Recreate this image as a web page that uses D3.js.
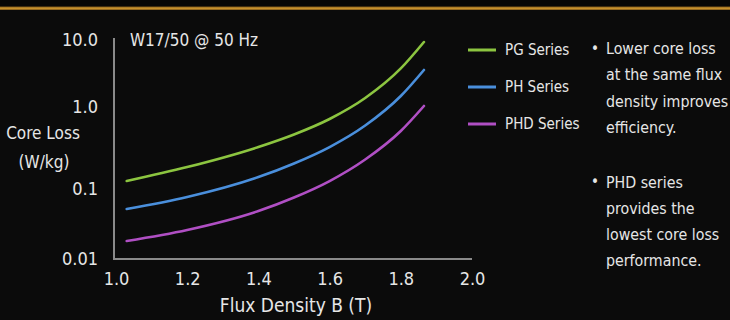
<!DOCTYPE html>
<html>
<head>
<meta charset="utf-8">
<script src="https://cdn.jsdelivr.net/npm/d3@7"></script>
<style>
  html, body { margin: 0; padding: 0; background: #0a0a0a; }
  svg { display: block; }
  text { font-family: "DejaVu Sans Condensed", "DejaVu Sans", sans-serif; font-stretch: condensed; fill: #e6e6e6; }
</style>
</head>
<body>
<svg id="chart" width="730" height="320"></svg>
<script>
// ---- data ----
const fluxDensity = [1.03, 1.2, 1.4, 1.5, 1.6, 1.7, 1.8, 1.865];
const pgSeries  = [0.125, 0.185, 0.325, 0.462, 0.714, 1.36, 3.76, 9.33];
const phSeries  = [0.0518, 0.0769, 0.140, 0.205, 0.325, 0.595, 1.46, 3.57];
const phdSeries = [0.0181, 0.0260, 0.0485, 0.0756, 0.125, 0.229, 0.510, 1.035];
const seriesNames = ["PG Series", "PH Series", "PHD Series"];
const seriesColors = ["#8cc540", "#4a8fdc", "#b04fc4"];
const xTickValues = [1.0, 1.2, 1.4, 1.6, 1.8, 2.0];
const xTickLabels = ["1.0", "1.2", "1.4", "1.6", "1.8", "2.0"];
const yTickValues = [0.01, 0.1, 1, 10];
const yTickLabels = ["0.01", "0.1", "1.0", "10.0"];
const chartTitle = "W17/50 @ 50 Hz";
const xTitle = "Flux Density B (T)";
const yTitle = ["Core Loss", "(W/kg)"];
const bullets = [
  ["Lower core loss", "at the same flux", "density improves", "efficiency."],
  ["PHD series", "provides the", "lowest core loss", "performance."]
];

const svg = d3.select("#chart");

// background + top gold rule
const defs = svg.append("defs");
const g1 = defs.append("linearGradient").attr("id", "gold").attr("x1", 0).attr("x2", 0).attr("y1", 0).attr("y2", 1);
g1.append("stop").attr("offset", "0%").attr("stop-color", "#7a5418");
g1.append("stop").attr("offset", "50%").attr("stop-color", "#d29a30");
g1.append("stop").attr("offset", "100%").attr("stop-color", "#7a5418");
svg.append("rect").attr("width", 730).attr("height", 320).attr("fill", "#0b0b0b");
svg.append("rect").attr("width", 730).attr("height", 7).attr("fill", "#060606");
svg.append("rect").attr("y", 6.5).attr("width", 730).attr("height", 3.5).attr("fill", "url(#gold)");

// scales
const x = d3.scaleLinear().domain([1.0, 2.0]).range([116, 472]);
const y = d3.scaleLog().domain(yTickValues).range([259, 189, 107, 40]);

// axes
const xAxis = d3.axisBottom(x).tickValues(xTickValues)
  .tickFormat((d, i) => xTickLabels[i]).tickSize(0).tickPadding(12);
const gx = svg.append("g").attr("transform", "translate(0,259)").call(xAxis);
gx.select(".domain").attr("stroke", "#8a8a8a").attr("stroke-width", 2)
  .attr("d", "M114,0H472");
gx.selectAll("text").attr("font-size", 18).attr("fill", "#e6e6e6")
  .attr("font-family", null).attr("dy", "0.75em");

const yAxis = d3.axisLeft(y).tickValues(yTickValues)
  .tickFormat((d, i) => yTickLabels[i]).tickSize(0).tickPadding(16);
const gy = svg.append("g").attr("transform", "translate(114,0)").call(yAxis);
gy.select(".domain").attr("stroke", "#8a8a8a").attr("stroke-width", 2)
  .attr("d", "M0,38V260");
gy.selectAll("text").attr("font-size", 18).attr("fill", "#e6e6e6").attr("font-family", null);

// titles
svg.append("text").attr("x", 130).attr("y", 40).attr("dy", "0.35em")
  .attr("font-size", 17).text(chartTitle);
svg.append("text").attr("x", 296).attr("y", 305).attr("dy", "0.35em")
  .attr("text-anchor", "middle").attr("font-size", 19).text(xTitle);
svg.append("text").attr("x", 43).attr("y", 133).attr("dy", "0.35em")
  .attr("text-anchor", "middle").attr("font-size", 17).text(yTitle[0]);
svg.append("text").attr("x", 44).attr("y", 162).attr("dy", "0.35em")
  .attr("text-anchor", "middle").attr("font-size", 17).text(yTitle[1]);

// lines
const allSeries = [pgSeries, phSeries, phdSeries];
const line = d3.line().x((d, i) => x(fluxDensity[i])).y(d => y(d)).curve(d3.curveMonotoneX);
allSeries.forEach((s, k) => {
  svg.append("path").datum(s).attr("d", line).attr("fill", "none")
    .attr("stroke", seriesColors[k]).attr("stroke-width", 2.6).attr("stroke-linecap", "round");
});

// legend
seriesNames.forEach((name, k) => {
  const ly = 50 + k * 37;
  svg.append("line").attr("x1", 468).attr("x2", 496).attr("y1", ly).attr("y2", ly)
    .attr("stroke", seriesColors[k]).attr("stroke-width", 3);
  svg.append("text").attr("x", 505).attr("y", ly).attr("dy", "0.35em")
    .attr("font-size", 15).text(name);
});

// bullet notes
const bulletTop = [48.5, 182];
bullets.forEach((lines, b) => {
  svg.append("text").attr("x", 595).attr("y", bulletTop[b]).attr("dy", "0.35em")
    .attr("font-size", 15).attr("text-anchor", "middle").text("•");
  lines.forEach((t, i) => {
    svg.append("text").attr("x", 606).attr("y", bulletTop[b] + i * 26.3).attr("dy", "0.35em")
      .attr("font-size", 15.8).text(t);
  });
});
</script>
</body>
</html>
